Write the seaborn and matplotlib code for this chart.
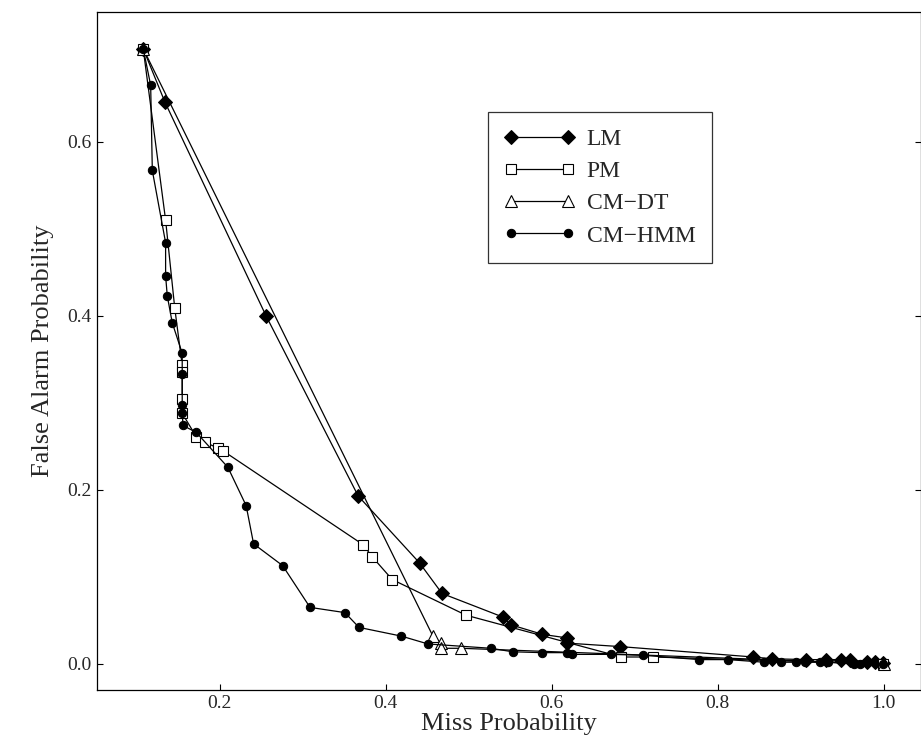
import pandas as pd
import matplotlib
matplotlib.use("Agg")
import matplotlib.pyplot as plt
import seaborn as sns

lm_x = [0.108, 0.134, 0.256, 0.367, 0.441, 0.468, 0.541, 0.551, 0.589, 0.618, 0.618, 0.682,
        0.843, 0.865, 0.907, 0.931, 0.949, 0.959, 0.980, 0.989, 0.999]
lm_y = [0.707, 0.646, 0.400, 0.193, 0.116, 0.081, 0.054, 0.045, 0.034, 0.030, 0.024, 0.020,
        0.008, 0.006, 0.005, 0.005, 0.005, 0.005, 0.002, 0.002, 0.001]

pm_x = [0.108, 0.135, 0.146, 0.155, 0.155, 0.155, 0.155, 0.172, 0.182, 0.198, 0.204,
        0.373, 0.384, 0.408, 0.497, 0.684, 0.722, 0.999]
pm_y = [0.707, 0.510, 0.409, 0.343, 0.335, 0.305, 0.288, 0.261, 0.255, 0.248, 0.245,
        0.137, 0.123, 0.097, 0.056, 0.008, 0.008, 0.000]

dt_x = [0.108, 0.457, 0.467, 0.467, 0.491, 1.000]
dt_y = [0.707, 0.032, 0.024, 0.018, 0.018, 0.000]

hmm_x = [0.108, 0.117, 0.119, 0.135, 0.135, 0.137, 0.143, 0.155, 0.155, 0.155, 0.155, 0.156,
         0.172, 0.210, 0.232, 0.241, 0.276, 0.309, 0.351, 0.368, 0.419, 0.451, 0.527, 0.553,
         0.588, 0.618, 0.624, 0.672, 0.710, 0.778, 0.813, 0.856, 0.876, 0.895, 0.905, 0.923,
         0.933, 0.964, 0.971, 0.999]
hmm_y = [0.707, 0.665, 0.567, 0.484, 0.446, 0.423, 0.392, 0.357, 0.333, 0.297, 0.288, 0.274,
         0.266, 0.226, 0.182, 0.138, 0.113, 0.065, 0.059, 0.042, 0.032, 0.023, 0.018, 0.014,
         0.013, 0.013, 0.011, 0.011, 0.010, 0.005, 0.005, 0.002, 0.002, 0.002, 0.002, 0.002,
         0.002, 0.000, 0.000, 0.000]

sns.set_style("white")
plt.rcParams['font.family'] = ['Liberation Serif', 'DejaVu Serif']

fig = plt.figure(figsize=(9.21, 7.55), dpi=100)
ax = fig.add_axes([0.105, 0.086, 0.895, 0.898])

series = [
    ("LM", lm_x, lm_y, dict(marker="D", markersize=7, markerfacecolor="black")),
    ("PM", pm_x, pm_y, dict(marker="s", markersize=7, markerfacecolor="white", markeredgewidth=0.8)),
    ("CM\u2212DT", dt_x, dt_y, dict(marker="^", markersize=8, markerfacecolor="white", markeredgewidth=0.8)),
    ("CM\u2212HMM", hmm_x, hmm_y, dict(marker="o", markersize=6, markerfacecolor="black")),
]

for name, xs, ys, style in series:
    df = pd.DataFrame({"x": xs, "y": ys})
    sns.lineplot(data=df, x="x", y="y", sort=False, estimator=None, ax=ax, label=name,
                 color="black", linewidth=0.9, markeredgecolor="black", **style)

ax.set_xlim(0.052, 1.045)
ax.set_ylim(-0.03, 0.749)
ax.set_xticks([0.2, 0.4, 0.6, 0.8, 1.0])
ax.set_yticks([0.0, 0.2, 0.4, 0.6])
ax.set_xticklabels(["0.2", "0.4", "0.6", "0.8", "1.0"])
ax.set_yticklabels(["0.0", "0.2", "0.4", "0.6"])
ax.tick_params(direction="in", length=4, labelsize=14, right=True, bottom=True, left=True, color="black")
for s in ax.spines.values():
    s.set_color("black")
    s.set_linewidth(0.9)

ax.set_xlabel("Miss Probability", fontsize=19, labelpad=1)
ax.set_ylabel("False Alarm Probability", fontsize=19, labelpad=10)

leg = ax.legend(loc="upper left", bbox_to_anchor=(0.46, 0.87), fontsize=17, frameon=True,
                fancybox=False, edgecolor="black", handlelength=3.0, borderpad=0.7,
                labelspacing=0.45, numpoints=2, handletextpad=0.5)
leg.get_frame().set_linewidth(0.9)

fig.savefig("out.png", dpi=100)
